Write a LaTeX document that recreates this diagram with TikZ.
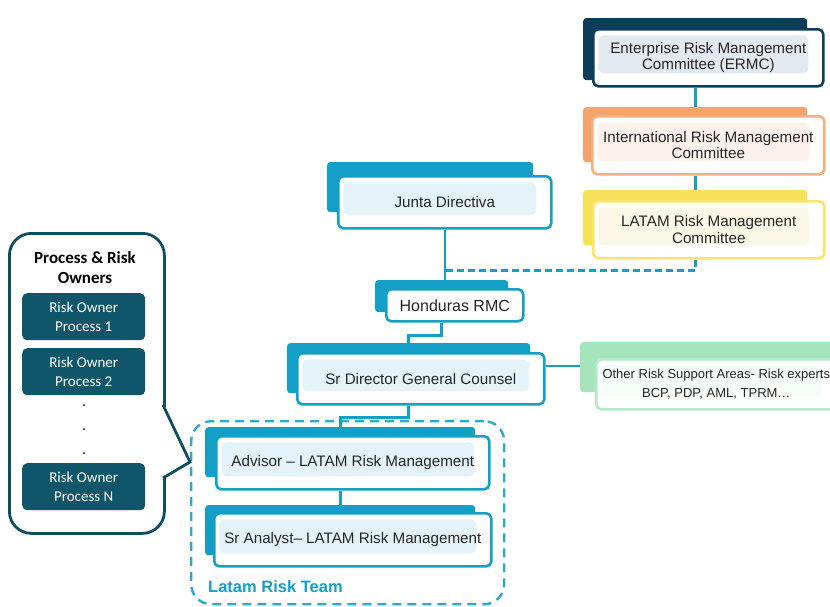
\documentclass[tikz,border=0pt]{standalone}
\usepackage{fontspec}
\setmainfont{Liberation Sans}
\newfontfamily\calib{Carlito}
\definecolor{teal}{HTML}{149FC7}
\definecolor{tealtint}{HTML}{E4F2FA}
\definecolor{navy}{HTML}{0E3D5B}
\definecolor{navytint}{HTML}{E2EAF0}
\definecolor{orng}{HTML}{F5A46C}
\definecolor{orngb}{HTML}{F6B07F}
\definecolor{orngtint}{HTML}{FCF2EB}
\definecolor{yell}{HTML}{F6E158}
\definecolor{yellb}{HTML}{F8E56C}
\definecolor{yelltint}{HTML}{FCF8E8}
\definecolor{grn}{HTML}{A6E4BE}
\definecolor{grnb}{HTML}{B3E9C7}
\definecolor{grntint}{HTML}{F6FCF8}
\definecolor{darkteal}{HTML}{10566A}
\definecolor{calloutline}{HTML}{0F4E5E}
\definecolor{txt}{HTML}{262626}
\tikzset{
  tabbox/.style={fill=#1, draw=none, rounded corners=3pt, anchor=north west, inner sep=0pt},
  frontbox/.style 2 args={draw=#1, fill=white, line width=2.6pt, rounded corners=5pt,
    anchor=north west, inner sep=0pt, align=center, text=txt,
    font=\fontsize{15.2}{16.5}\selectfont,
    path picture={\fill[#2] ([xshift=5pt,yshift=-6pt]path picture bounding box.north west)
      rectangle ([xshift=-15pt,yshift=13pt]path picture bounding box.south east);}},
  conn/.style={draw=teal, line width=2.6pt},
  dconn/.style={draw=teal, line width=2.6pt, dash pattern=on 7pt off 4pt},
  ownerbox/.style={fill=darkteal, rounded corners=5pt, anchor=north west, inner sep=0pt,
    minimum width=123pt, minimum height=47pt, text=white, align=center,
    font=\calib\fontsize{15}{19}\selectfont},
  dotmark/.style={circle, fill=black, inner sep=0pt, minimum size=2pt}
}
\begin{document}
\begin{tikzpicture}[x=1pt,y=-1pt]
\useasboundingbox (0,0) rectangle (830,606);

% ---- tabs ----
\node[tabbox=navy, minimum width=224pt, minimum height=62pt] (ermcT) at (583,18) {};
\node[tabbox=orng, minimum width=224pt, minimum height=55pt] (intlT) at (583,107) {};
\node[tabbox=yell, minimum width=224pt, minimum height=55pt] (latamT) at (583,190) {};
\node[tabbox=teal, minimum width=206pt, minimum height=50pt] (juntaT) at (327,162) {};
\node[tabbox=teal, minimum width=133pt, minimum height=32pt] (hondT) at (375,280) {};
\node[tabbox=teal, minimum width=243pt, minimum height=50pt] (srdT) at (287,343) {};
\node[tabbox=grn, minimum width=270pt, minimum height=50pt] (otherT) at (580,342) {};
\node[tabbox=teal, minimum width=270pt, minimum height=50pt] (advT) at (205,427) {};
\node[tabbox=teal, minimum width=270pt, minimum height=50pt] (anaT) at (205,505) {};

% ---- front boxes ----
\node[frontbox={navy}{navytint}, minimum width=230pt, minimum height=57pt] (ermc) at (592,28)
  {Enterprise Risk Management\\Committee (ERMC)};
\node[frontbox={orngb}{orngtint}, minimum width=232pt, minimum height=58pt] (intl) at (591,115)
  {International Risk Management\\Committee};
\node[frontbox={yellb}{yelltint}, minimum width=231pt, minimum height=57pt] (latam) at (592,200)
  {LATAM Risk Management\\Committee};
\node[frontbox={teal}{tealtint}, minimum width=213pt, minimum height=52pt] (junta) at (337,175)
  {Junta Directiva};
\node[frontbox={teal}{tealtint}, minimum width=137pt, minimum height=32pt,
  font=\fontsize{16}{17}\selectfont,
  path picture={}] (hond) at (385,288) {Honduras RMC};
\node[frontbox={teal}{tealtint}, minimum width=247pt, minimum height=51pt] (srd) at (296,352)
  {Sr Director General Counsel};
\node[frontbox={grnb}{grntint}, minimum width=240pt, minimum height=50pt,
  font=\fontsize{13}{19}\selectfont] (other) at (595,358)
  {Other Risk Support Areas- Risk experts\\BCP, PDP, AML, TPRM\ldots};
\node[frontbox={teal}{tealtint}, minimum width=273pt, minimum height=53pt] (adv) at (215,435)
  {Advisor -- LATAM Risk Management};
\node[frontbox={teal}{tealtint}, minimum width=277pt, minimum height=53pt] (ana) at (213,512)
  {Sr Analyst-- LATAM Risk Management};

% ---- team frame ----
\node[draw=teal!90, line width=2.4pt, dash pattern=on 9pt off 6pt, rounded corners=20pt,
  anchor=north west, minimum width=313pt, minimum height=183pt, inner sep=0pt] (team) at (190,420) {};
\node[anchor=west, text=teal, font=\bfseries\fontsize{16.5}{18}\selectfont, inner sep=0pt]
  (teamlbl) at (208,587) {Latam Risk Team};

% ---- connectors ----
\draw[conn] (ermc.south -| ermcT.south) -- (intlT.north);
\draw[conn] (intl.south -| intlT.south) -- (latamT.north);
\path (junta.south) ++(0,41) coordinate (junc);
\draw[dconn] (latam.south -| latamT.south) |- (junc);
\draw[conn] (junta.south) -- (junta.south |- hondT.north);
\draw[conn] (hond.south -| hondT.north) -- ++(0,13) -| (srdT.north);
\draw[conn] ([yshift=13pt]srd.east) -- ([yshift=13pt]srd.east -| otherT.west);
\draw[conn] (srd.south -| srdT.north) -- ++(0,12) -| (advT.north);
\draw[conn] (adv.south -| advT.north) -- (anaT.north);

% ---- process & risk owners callout ----
\node[draw=calloutline, line width=2.8pt, fill=white, rounded corners=22pt, anchor=north west,
  minimum width=155pt, minimum height=300pt, inner sep=0pt] (callout) at (8,232) {};
\coordinate (ptA) at (163,405);
\coordinate (ptTip) at (190,462);
\coordinate (ptB) at (163,478);
\fill[white] (ptA) -- (ptTip) -- (ptB) -- cycle;
\fill[white] (159.5,407) rectangle (166,476);
\draw[draw=calloutline, line width=2.8pt, line join=miter] (ptA) -- (ptTip) -- (ptB);
\node[font=\calib\bfseries\fontsize{17}{20}\selectfont, align=center, text=black] (ttl) at (85,268)
  {Process \& Risk\\Owners};
\node[ownerbox] (own1) at (22,293) {Risk Owner\\Process 1};
\node[ownerbox] (own2) at (22,348) {Risk Owner\\Process 2};
\node[ownerbox] (ownN) at (22,463) {Risk Owner\\Process N};
\node[dotmark] (d1) at (84,405) {};
\node[dotmark] (d2) at (84,429) {};
\node[dotmark] (d3) at (84,453) {};
\end{tikzpicture}
\end{document}
